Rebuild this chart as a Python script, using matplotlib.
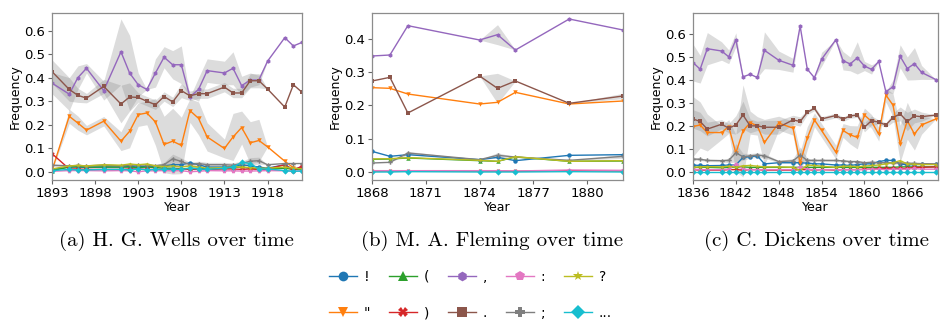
import matplotlib
matplotlib.use("Agg")
import matplotlib.pyplot as plt
from matplotlib.lines import Line2D

# punctuation marks, in the order they are plotted
marks = ['!', '"', '(', ')', ',', '.', ':', ';', '?', '...']
colors = ['tab:blue', 'tab:orange', 'tab:green', 'tab:red', 'tab:purple',
          'tab:brown', 'tab:pink', 'tab:gray', 'tab:olive', 'tab:cyan']
markers = ['o', 'v', '^', 'X', 'h', 's', 'p', 'P', '*', 'D']

# ---- H. G. Wells ----
wells_years = [1893, 1895, 1896, 1897, 1899, 1901, 1902, 1903, 1904, 1905, 1906, 1907, 1908,
               1909, 1910, 1911, 1913, 1914, 1915, 1916, 1917, 1918, 1920, 1921, 1922]
wells_excl = [0.01, 0.02, 0.02, 0.018, 0.02, 0.02, 0.022, 0.025, 0.02, 0.022, 0.025, 0.03, 0.03,
              0.038, 0.03, 0.02, 0.02, 0.022, 0.03, 0.025, 0.02, 0.015, 0.03, 0.01, 0.02]
wells_quote = [0.005, 0.236, 0.207, 0.177, 0.215, 0.13, 0.172, 0.243, 0.25, 0.212, 0.116, 0.13, 0.112,
               0.26, 0.227, 0.148, 0.099, 0.148, 0.188, 0.123, 0.133, 0.106, 0.045, 0.017, 0.01]
wells_lparen = [0.005, 0.02, 0.022, 0.02, 0.02, 0.02, 0.02, 0.018, 0.02, 0.018, 0.015, 0.015, 0.012,
                0.015, 0.015, 0.012, 0.015, 0.018, 0.02, 0.015, 0.012, 0.012, 0.015, 0.01, 0.01]
wells_rparen = [0.077, 0.012, 0.012, 0.01, 0.01, 0.01, 0.012, 0.012, 0.01, 0.01, 0.01, 0.01, 0.012,
                0.01, 0.01, 0.01, 0.012, 0.012, 0.01, 0.012, 0.01, 0.012, 0.03, 0.005, 0.025]
wells_comma = [0.377, 0.33, 0.40, 0.44, 0.345, 0.51, 0.42, 0.37, 0.35, 0.42, 0.487, 0.455, 0.455,
               0.318, 0.35, 0.43, 0.42, 0.44, 0.366, 0.39, 0.39, 0.47, 0.57, 0.535, 0.55]
wells_period = [0.426, 0.35, 0.325, 0.313, 0.363, 0.288, 0.318, 0.316, 0.30, 0.285, 0.32, 0.297, 0.345,
                0.323, 0.332, 0.332, 0.36, 0.335, 0.335, 0.387, 0.387, 0.352, 0.275, 0.37, 0.338]
wells_colon = [0.002, 0.005, 0.005, 0.005, 0.004, 0.005, 0.004, 0.0, 0.004, 0.004, 0.005, 0.004, 0.005,
               0.0, 0.002, 0.005, 0.004, 0.004, 0.003, 0.003, 0.004, 0.005, 0.004, 0.003, 0.004]
wells_semi = [0.028, 0.025, 0.027, 0.025, 0.028, 0.025, 0.028, 0.03, 0.028, 0.026, 0.03, 0.055, 0.044,
              0.03, 0.035, 0.03, 0.03, 0.028, 0.035, 0.045, 0.047, 0.03, 0.035, 0.035, 0.035]
wells_quest = [0.012, 0.025, 0.027, 0.025, 0.03, 0.028, 0.033, 0.03, 0.033, 0.025, 0.022, 0.025, 0.02,
               0.025, 0.02, 0.015, 0.018, 0.02, 0.02, 0.018, 0.015, 0.015, 0.02, 0.015, 0.012]
wells_ellip = [0.005, 0.01, 0.008, 0.008, 0.01, 0.01, 0.008, 0.012, 0.008, 0.01, 0.01, 0.012, 0.01,
               0.015, 0.012, 0.01, 0.015, 0.02, 0.04, 0.035, 0.012, 0.012, 0.005, 0.002, 0.003]
# half width of the confidence bands
wells_comma_ci = [0.045, 0.07, 0.05, 0.02, 0.04, 0.14, 0.16, 0.05, 0.0, 0.06, 0.045, 0.06, 0.08,
                  0.0, 0.05, 0.05, 0.05, 0.07, 0.04, 0.03, 0.02, 0.0, 0.0, 0.0, 0.0]
wells_period_ci = [0.05, 0.05, 0.03, 0.02, 0.03, 0.08, 0.06, 0.02, 0.02, 0.02, 0.02, 0.02, 0.03,
                   0.02, 0.02, 0.02, 0.02, 0.02, 0.02, 0.03, 0.03, 0.0, 0.0, 0.0, 0.0]
wells_quote_ci = [0.0, 0.03, 0.03, 0.02, 0.02, 0.04, 0.07, 0.05, 0.05, 0.1, 0.12, 0.14, 0.12,
                  0.05, 0.07, 0.06, 0.04, 0.1, 0.07, 0.09, 0.09, 0.0, 0.0, 0.0, 0.0]
wells_semi_ci = [0.005, 0.005, 0.005, 0.005, 0.005, 0.005, 0.005, 0.005, 0.005, 0.005, 0.01, 0.02, 0.015,
                 0.01, 0.01, 0.01, 0.01, 0.01, 0.01, 0.015, 0.015, 0.0, 0.0, 0.0, 0.0]

# ---- M. A. Fleming ----
fleming_years = [1868, 1869, 1870, 1874, 1875, 1876, 1879, 1882]
fleming_excl = [0.062, 0.047, 0.052, 0.037, 0.044, 0.034, 0.05, 0.052]
fleming_quote = [0.253, 0.251, 0.234, 0.204, 0.209, 0.239, 0.204, 0.213]
fleming_lparen = [0.038, 0.039, 0.042, 0.034, 0.032, 0.045, 0.032, 0.033]
fleming_rparen = [0.003, 0.003, 0.003, 0.003, 0.003, 0.002, 0.004, 0.003]
fleming_comma = [0.348, 0.351, 0.439, 0.396, 0.412, 0.366, 0.459, 0.426]
fleming_period = [0.273, 0.284, 0.177, 0.288, 0.251, 0.273, 0.206, 0.228]
fleming_colon = [0.004, 0.004, 0.004, 0.004, 0.004, 0.003, 0.006, 0.005]
fleming_semi = [0.027, 0.029, 0.057, 0.037, 0.05, 0.045, 0.035, 0.047]
fleming_quest = [0.039, 0.04, 0.043, 0.035, 0.032, 0.046, 0.032, 0.034]
fleming_ellip = [0.0, 0.0, 0.001, 0.0, 0.0, 0.0, 0.001, 0.0]
fleming_comma_ci = [0.0, 0.0, 0.0, 0.0, 0.03, 0.0, 0.0, 0.0]
fleming_period_ci = [0.0, 0.0, 0.0, 0.0, 0.045, 0.0, 0.0, 0.008]
fleming_semi_ci = [0.0, 0.0, 0.005, 0.0, 0.008, 0.0, 0.0, 0.006]

# ---- C. Dickens ----
dickens_years = [1836, 1837, 1838, 1840, 1841, 1842, 1843, 1844, 1845, 1846, 1848, 1850, 1851, 1852, 1853,
                 1854, 1856, 1857, 1858, 1859, 1860, 1861, 1862, 1863, 1864, 1865, 1866, 1867, 1868, 1870]
dickens_excl = [0.03, 0.028, 0.027, 0.028, 0.03, 0.03, 0.063, 0.066, 0.07, 0.035, 0.04, 0.04, 0.04, 0.038, 0.035,
                0.035, 0.03, 0.03, 0.028, 0.032, 0.035, 0.035, 0.045, 0.05, 0.05, 0.035, 0.03, 0.032, 0.033, 0.033]
dickens_quote = [0.197, 0.204, 0.171, 0.171, 0.197, 0.082, 0.178, 0.214, 0.2, 0.128, 0.212, 0.19, 0.039, 0.147, 0.226,
                 0.18, 0.086, 0.18, 0.161, 0.15, 0.247, 0.219, 0.164, 0.334, 0.29, 0.122, 0.222, 0.165, 0.204, 0.23]
dickens_lparen = [0.02, 0.02, 0.02, 0.018, 0.02, 0.02, 0.022, 0.02, 0.02, 0.02, 0.02, 0.02, 0.02, 0.02, 0.02,
                  0.02, 0.02, 0.02, 0.02, 0.02, 0.02, 0.02, 0.02, 0.02, 0.02, 0.022, 0.022, 0.022, 0.022, 0.022]
dickens_rparen = [0.01, 0.008, 0.008, 0.008, 0.01, 0.01, 0.008, 0.01, 0.01, 0.008, 0.008, 0.008, 0.01, 0.01, 0.008,
                  0.01, 0.008, 0.01, 0.01, 0.01, 0.012, 0.012, 0.015, 0.015, 0.015, 0.015, 0.015, 0.02, 0.02, 0.022]
dickens_comma = [0.475, 0.446, 0.535, 0.525, 0.5, 0.574, 0.413, 0.424, 0.41, 0.528, 0.485, 0.463, 0.633, 0.446, 0.409,
                 0.489, 0.574, 0.483, 0.469, 0.495, 0.46, 0.445, 0.48, 0.348, 0.37, 0.502, 0.449, 0.47, 0.432, 0.401]
dickens_period = [0.23, 0.219, 0.186, 0.207, 0.19, 0.204, 0.247, 0.2, 0.2, 0.194, 0.194, 0.226, 0.219, 0.259, 0.276,
                  0.23, 0.245, 0.229, 0.243, 0.247, 0.194, 0.223, 0.216, 0.204, 0.236, 0.252, 0.219, 0.243, 0.24, 0.247]
dickens_colon = [0.012, 0.01, 0.01, 0.01, 0.012, 0.035, 0.012, 0.01, 0.01, 0.01, 0.01, 0.01, 0.023, 0.012, 0.01,
                 0.01, 0.01, 0.01, 0.01, 0.01, 0.01, 0.012, 0.012, 0.01, 0.012, 0.012, 0.012, 0.015, 0.012, 0.012]
dickens_semi = [0.056, 0.055, 0.05, 0.049, 0.05, 0.083, 0.066, 0.07, 0.073, 0.07, 0.045, 0.048, 0.073, 0.05, 0.05,
                0.05, 0.05, 0.048, 0.045, 0.045, 0.04, 0.042, 0.04, 0.04, 0.04, 0.038, 0.038, 0.037, 0.036, 0.035]
dickens_quest = [0.02, 0.022, 0.023, 0.022, 0.025, 0.02, 0.027, 0.028, 0.025, 0.022, 0.022, 0.02, 0.006, 0.03, 0.028,
                 0.025, 0.02, 0.025, 0.025, 0.023, 0.025, 0.028, 0.03, 0.035, 0.04, 0.049, 0.035, 0.033, 0.032, 0.032]
dickens_ellip = [0.0, 0.0, 0.0, 0.0, 0.0, 0.0, 0.0, 0.0, 0.0, 0.0, 0.0, 0.0, 0.0, 0.0, 0.0,
                 0.0, 0.0, 0.0, 0.0, 0.0, 0.0, 0.0, 0.0, 0.0, 0.0, 0.0, 0.0, 0.0, 0.0, 0.0]
dickens_comma_ci = [0.08, 0.06, 0.07, 0.04, 0.03, 0.03, 0.0, 0.0, 0.0, 0.08, 0.04, 0.03, 0.0, 0.0, 0.0,
                    0.03, 0.0, 0.04, 0.03, 0.07, 0.02, 0.02, 0.0, 0.0, 0.03, 0.05, 0.05, 0.07, 0.03, 0.0]
dickens_period_ci = [0.04, 0.04, 0.03, 0.02, 0.02, 0.04, 0.06, 0.03, 0.02, 0.03, 0.03, 0.02, 0.02, 0.01, 0.01,
                     0.01, 0.01, 0.01, 0.01, 0.01, 0.02, 0.02, 0.01, 0.01, 0.02, 0.03, 0.04, 0.03, 0.02, 0.0]
dickens_quote_ci = [0.13, 0.1, 0.08, 0.03, 0.03, 0.08, 0.2, 0.05, 0.04, 0.1, 0.03, 0.03, 0.05, 0.05, 0.03,
                    0.03, 0.03, 0.03, 0.04, 0.05, 0.03, 0.03, 0.03, 0.03, 0.05, 0.08, 0.08, 0.07, 0.04, 0.0]
dickens_semi_ci = [0.005, 0.005, 0.005, 0.005, 0.01, 0.04, 0.015, 0.01, 0.01, 0.01, 0.005, 0.01, 0.035, 0.01, 0.005,
                   0.005, 0.005, 0.005, 0.005, 0.005, 0.005, 0.005, 0.005, 0.005, 0.005, 0.005, 0.005, 0.005, 0.005, 0.0]

panels = [
    dict(years=wells_years,
         series=[wells_excl, wells_quote, wells_lparen, wells_rparen, wells_comma,
                 wells_period, wells_colon, wells_semi, wells_quest, wells_ellip],
         bands={',': wells_comma_ci, '.': wells_period_ci, '"': wells_quote_ci, ';': wells_semi_ci},
         xlim=(1893, 1922), xticks=range(1893, 1922, 5), ylim=(-0.035, 0.675),
         yticks=[0.0, 0.1, 0.2, 0.3, 0.4, 0.5, 0.6],
         caption='(a) H. G. Wells over time', left=52, right=302, cap_x=176),
    dict(years=fleming_years,
         series=[fleming_excl, fleming_quote, fleming_lparen, fleming_rparen, fleming_comma,
                 fleming_period, fleming_colon, fleming_semi, fleming_quest, fleming_ellip],
         bands={',': fleming_comma_ci, '.': fleming_period_ci, ';': fleming_semi_ci},
         xlim=(1868, 1882), xticks=range(1868, 1882, 3), ylim=(-0.024, 0.477),
         yticks=[0.0, 0.1, 0.2, 0.3, 0.4],
         caption='(b) M. A. Fleming over time', left=372, right=623, cap_x=492),
    dict(years=dickens_years,
         series=[dickens_excl, dickens_quote, dickens_lparen, dickens_rparen, dickens_comma,
                 dickens_period, dickens_colon, dickens_semi, dickens_quest, dickens_ellip],
         bands={',': dickens_comma_ci, '.': dickens_period_ci, '"': dickens_quote_ci, ';': dickens_semi_ci},
         xlim=(1836, 1870.3), xticks=range(1836, 1870, 6), ylim=(-0.035, 0.69),
         yticks=[0.0, 0.1, 0.2, 0.3, 0.4, 0.5, 0.6],
         caption='(c) C. Dickens over time', left=693, right=938, cap_x=817),
]

W, H = 941, 325
fig = plt.figure(figsize=(W / 100, H / 100), dpi=100)

for p in panels:
    ax = fig.add_axes([p['left'] / W, 1 - 180 / H, (p['right'] - p['left']) / W, 167 / H])
    yrs = p['years']
    # shaded bands first so lines sit on top
    for m, ci in p['bands'].items():
        vals = p['series'][marks.index(m)]
        lo = [v - c for v, c in zip(vals, ci)]
        hi = [v + c for v, c in zip(vals, ci)]
        ax.fill_between(yrs, lo, hi, color='0.55', alpha=0.3, lw=0)
    for vals, c, mk in zip(p['series'], colors, markers):
        ax.plot(yrs, vals, color=c, marker=mk, lw=1.0, ms=3.2, mew=0)
    ax.set_xlim(*p['xlim'])
    ax.set_ylim(*p['ylim'])
    ax.set_xticks(list(p['xticks']))
    ax.set_yticks(p['yticks'])
    ax.set_yticklabels(['%.1f' % t for t in p['yticks']])
    ax.tick_params(labelsize=9.5, length=3, color='0.4', pad=2)
    for s in ax.spines.values():
        s.set_color('0.55')
        s.set_linewidth(0.9)
    ax.set_xlabel('Year', fontsize=9, labelpad=1)
    ax.set_ylabel('Frequency', fontsize=9, labelpad=2)
    fig.text(p['cap_x'] / W, 1 - 246 / H, p['caption'], ha='center', va='baseline',
             fontsize=15, family='cmr10')

handles = [Line2D([], [], color=c, marker=mk, lw=1.0, ms=7, mew=0)
           for c, mk in zip(colors, markers)]
fig.legend(handles, marks, loc='center', bbox_to_anchor=(0.5, 1 - 295 / H), ncol=5,
           frameon=False, fontsize=10, handlelength=2.0, handletextpad=0.5,
           columnspacing=1.35, labelspacing=1.6)

fig.savefig('out.png', dpi=100)
